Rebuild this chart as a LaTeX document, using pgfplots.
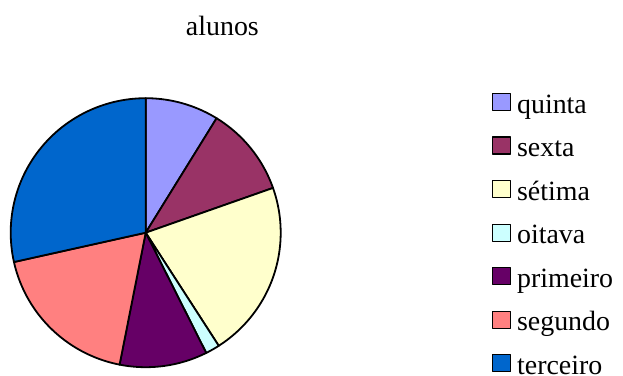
\documentclass[border=0pt]{standalone}
\usepackage{pgfplots}
\pgfplotsset{compat=1.18}
\usepackage{pgfplotstable}
\usepackage{fontspec}
\setmainfont{Liberation Serif}
\definecolor{cquinta}{HTML}{9999FF}
\definecolor{csexta}{HTML}{993366}
\definecolor{csetima}{HTML}{FFFFCC}
\definecolor{coitava}{HTML}{CCFFFF}
\definecolor{cprimeiro}{HTML}{660066}
\definecolor{csegundo}{HTML}{FF8080}
\definecolor{cterceiro}{HTML}{0066CC}
\pgfplotstableread{
grupo value col
quinta 8.8 cquinta
sexta 10.8 csexta
sétima 21.3 csetima
oitava 1.7 coitava
primeiro 10.5 cprimeiro
segundo 18.4 csegundo
terceiro 28.5 cterceiro
}\alunos
\begin{document}
\begin{tikzpicture}
\useasboundingbox (0,0) rectangle (623bp,376bp);
\begin{axis}[
  scale only axis, width=270bp, height=269bp,
  xmin=-1, xmax=1, ymin=-1, ymax=1,
  hide axis, clip=false,
  at={(145.7bp,143.3bp)}, anchor=center,
  title={alunos},
  title style={at={(0.784,1.210)}, anchor=base, inner sep=0pt, font=\fontsize{28}{32}\selectfont},
  legend cell align=left,
  legend style={draw=none, fill=none, at={(1.771,1.0279)}, anchor=north west,
    font=\fontsize{28}{32}\selectfont, row sep=17.4bp, column sep=0pt,
    nodes={inner sep=0pt, text height=20bp, text depth=6bp}},
  legend image code/.code={\draw[#1, line width=1.3bp] (0bp,-4.5bp) rectangle (18bp,12.5bp);\path (23.5bp,0);},
]
\pgfplotstablegetrowsof{\alunos}
\pgfmathtruncatemacro\nrows{\pgfplotsretval-1}
\def\cum{0}
\pgfplotsforeachungrouped \i in {0,...,\nrows}{
  \pgfplotstablegetelem{\i}{value}\of\alunos \let\v\pgfplotsretval
  \pgfplotstablegetelem{\i}{col}\of\alunos \let\c\pgfplotsretval
  \pgfplotstablegetelem{\i}{grupo}\of\alunos \let\n\pgfplotsretval
  \pgfmathsetmacro\a{90-3.6*\cum}
  \pgfmathsetmacro\b{90-3.6*(\cum+\v)}
  \edef\temp{\noexpand\addplot[draw=black, line width=1.8bp, line join=round, fill=\c, no markers, domain=\b:\a, samples=60] ({cos(x)},{sin(x)}) -- (0,0) -- cycle; \noexpand\addlegendentry{\n}}
  \temp
  \pgfmathsetmacro\cum{\cum+\v}
}
\end{axis}
\end{tikzpicture}
\end{document}
